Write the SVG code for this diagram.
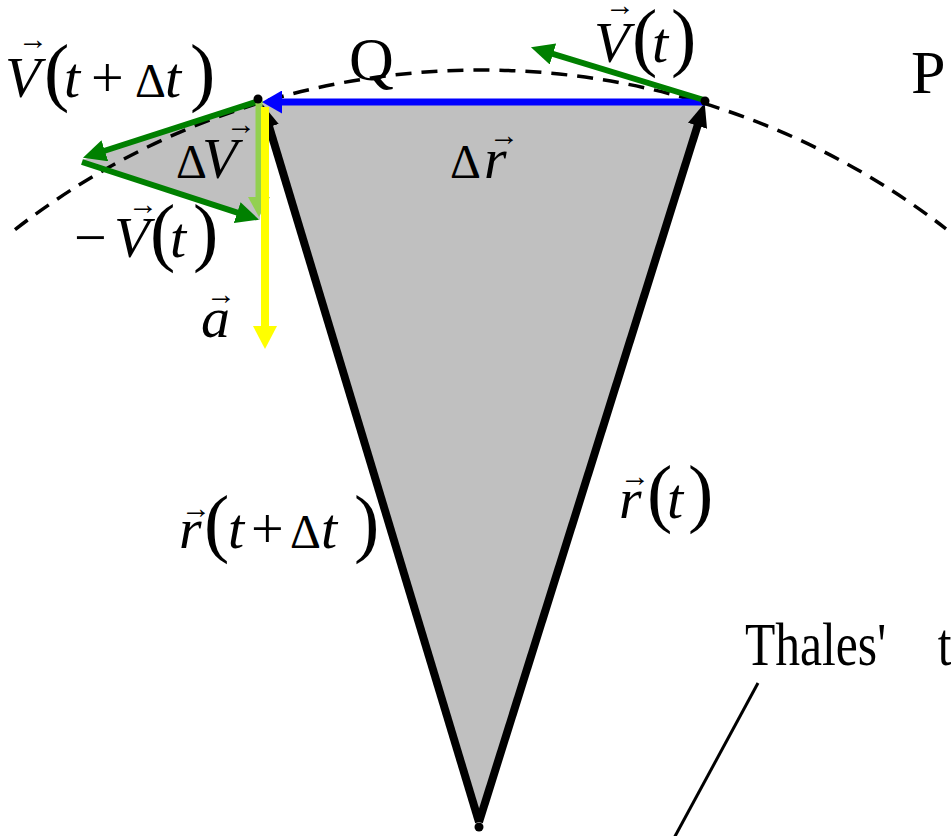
<svg xmlns="http://www.w3.org/2000/svg" width="951" height="836" viewBox="0 0 951 836">
<style>
text{font-family:"Liberation Serif","Times New Roman",serif;fill:#000}
.i{font-style:italic;font-size:58px}
.u{font-size:58px}
.d{font-size:48px}
.p{font-size:76px}
.acc{font-size:30px;text-anchor:middle}
.lbl{font-size:62px}
.vec{fill:none;stroke-linecap:butt}
</style>
<defs>
<marker id="ah-black" markerUnits="userSpaceOnUse" viewBox="0 0 24 20" markerWidth="24" markerHeight="20" refX="1" refY="10" orient="auto"><path d="M0,0 L24,10 L0,20 z" fill="#000"/></marker>
<marker id="ah-blue" markerUnits="userSpaceOnUse" viewBox="0 0 20 23" markerWidth="20" markerHeight="23" refX="1" refY="11.5" orient="auto"><path d="M0,0 L20,11.5 L0,23 z" fill="#0000FF"/></marker>
<marker id="ah-green" markerUnits="userSpaceOnUse" viewBox="0 0 23 22" markerWidth="23" markerHeight="22" refX="1" refY="11" orient="auto"><path d="M0,0 L23,11 L0,22 z" fill="#008000"/></marker>
<marker id="ah-lgreen" markerUnits="userSpaceOnUse" viewBox="0 0 20 22" markerWidth="20" markerHeight="22" refX="1" refY="11" orient="auto"><path d="M0,0 L20,11 L0,22 z" fill="#92D050"/></marker>
<marker id="ah-yellow" markerUnits="userSpaceOnUse" viewBox="0 0 23 24" markerWidth="23" markerHeight="24" refX="1" refY="12" orient="auto"><path d="M0,0 L23,12 L0,24 z" fill="#FFFF00"/></marker>
</defs>

<g id="shading" fill="#C0C0C0">
<polygon points="262,102 705,102 479,822"/>
<polygon points="262,100 82,160 260,220"/>
</g>

<g id="orbit">
<path d="M15,229.6 A760,760 0 0 1 946,228.8" fill="none" stroke="#000" stroke-width="3.5" stroke-dasharray="16 10"/>
</g>

<g id="connectors">
<line id="r-t" class="vec" x1="479" y1="822" x2="697.8" y2="124.9" stroke="#000" stroke-width="8" marker-end="url(#ah-black)"/>
<line id="r-tdt" class="vec" x1="479" y1="822" x2="268.9" y2="126" stroke="#000" stroke-width="8" marker-end="url(#ah-black)"/>
<line id="thales-pointer" x1="758" y1="683" x2="673" y2="840" stroke="#000" stroke-width="3"/>
<line id="delta-r" class="vec" x1="705" y1="102" x2="281" y2="102" stroke="#0000FF" stroke-width="7" marker-end="url(#ah-blue)"/>
<line id="v-t" class="vec" x1="704" y1="100" x2="552" y2="53.7" stroke="#008000" stroke-width="6" marker-end="url(#ah-green)"/>
<line id="v-tdt" class="vec" x1="262" y1="100" x2="103.9" y2="151" stroke="#008000" stroke-width="6" marker-end="url(#ah-green)"/>
<line id="minus-v-t" class="vec" x1="82" y1="162" x2="238.1" y2="212.9" stroke="#008000" stroke-width="6" marker-end="url(#ah-green)"/>
<line id="delta-v" class="vec" x1="259" y1="100" x2="259" y2="198" stroke="#92D050" stroke-width="7" marker-end="url(#ah-lgreen)"/>
<line id="accel" class="vec" x1="265" y1="107" x2="265" y2="327" stroke="#FFFF00" stroke-width="8" marker-end="url(#ah-yellow)"/>
</g>

<g id="points" fill="#000">
<circle id="pt-P" cx="705" cy="101" r="4.5"/>
<circle id="pt-Q" cx="258" cy="99" r="4.5"/>
<circle id="pt-O" cx="479" cy="827" r="4.5"/>
</g>

<g id="labels">
<g id="lbl-V-tdt">
<text class="acc" x="33" y="49">→</text>
<text y="97"><tspan class="i" x="5">V</tspan><tspan class="p" x="44">(</tspan><tspan class="i" x="64">t</tspan><tspan class="u" x="91">+</tspan><tspan class="d" x="135">Δ</tspan><tspan class="i" x="165">t</tspan><tspan class="p" x="190">)</tspan></text>
</g>
<g id="lbl-dV">
<text class="acc" x="241" y="134">→</text>
<text y="178"><tspan class="d" x="176">Δ</tspan><tspan class="i" x="202">V</tspan></text>
</g>
<g id="lbl-minusV">
<text class="acc" x="143" y="214">→</text>
<text y="257"><tspan class="u" x="74">−</tspan><tspan class="i" x="114">V</tspan><tspan class="p" x="150">(</tspan><tspan class="i" x="170">t</tspan><tspan class="p" x="193">)</tspan></text>
</g>
<g id="lbl-a">
<text class="acc" x="221" y="304">→</text>
<text class="i" x="201" y="337">a</text>
</g>
<g id="lbl-Q"><text class="lbl" x="349" y="80">Q</text></g>
<g id="lbl-P"><text class="lbl" x="911" y="93">P</text></g>
<g id="lbl-dr">
<text class="acc" x="504" y="145">→</text>
<text y="178"><tspan class="d" x="450">Δ</tspan><tspan class="i" x="484">r</tspan></text>
</g>
<g id="lbl-V-t">
<text class="acc" x="620" y="15">→</text>
<text y="62"><tspan class="i" x="594">V</tspan><tspan class="p" x="632">(</tspan><tspan class="i" x="652">t</tspan><tspan class="p" x="671">)</tspan></text>
</g>
<g id="lbl-r-t">
<text class="acc" x="635" y="486">→</text>
<text y="518"><tspan class="i" x="619">r</tspan><tspan class="p" x="647">(</tspan><tspan class="i" x="667">t</tspan><tspan class="p" x="688">)</tspan></text>
</g>
<g id="lbl-r-tdt">
<text class="acc" x="196" y="518">→</text>
<text y="548"><tspan class="i" x="179">r</tspan><tspan class="p" x="204">(</tspan><tspan class="i" x="228">t</tspan><tspan class="u" x="251">+</tspan><tspan class="d" x="290">Δ</tspan><tspan class="i" x="321">t</tspan><tspan class="p" x="354">)</tspan></text>
</g>
<g id="lbl-thales">
<text font-size="62" transform="translate(745,665) scale(0.8,1)"><tspan x="0">Thales'</tspan><tspan x="241">t</tspan></text>
</g>
</g>
</svg>
